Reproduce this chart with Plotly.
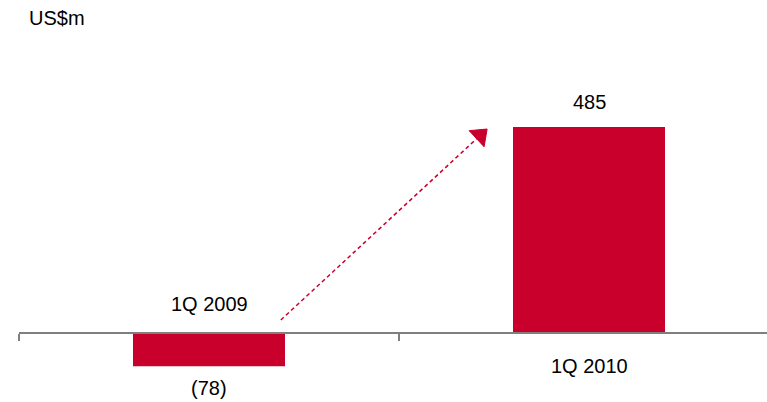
import plotly.graph_objects as go

# Quarterly result, US$ millions
periods = ["1Q 2009", "1Q 2010"]
values = [-78, 485]
positions = [0, 1]

# Trend arrow endpoints (category position, US$m)
arrow_x = [0.189, 0.7135]
arrow_y = [30.6, 465.0]

RED = "#C8002B"
AXIS_GRAY = "#7F7F7F"
FONT = "Liberation Sans, Arial, sans-serif"

W, H = 767, 402
ZERO_PX = 333          # vertical pixel of the zero line
PX_PER_UNIT = 206 / 485


def fmt(v):
    return f"({abs(v)})" if v < 0 else f"{v}"


fig = go.Figure()

fig.add_trace(go.Bar(
    x=positions, y=values, width=0.4,
    marker=dict(color=RED, line=dict(width=0)),
    hoverinfo="skip",
))

# dashed trend arrow
fig.add_trace(go.Scatter(
    x=arrow_x, y=arrow_y, mode="lines",
    line=dict(color=RED, width=1.5, dash="4px,3px"),
    hoverinfo="skip",
))
# solid triangle head oriented along the arrow
fig.add_trace(go.Scatter(
    x=arrow_x, y=arrow_y, mode="markers",
    marker=dict(symbol=["circle", "triangle-up"], size=[0, 19],
                color=RED, opacity=1, angleref="previous",
                line=dict(width=1, color=RED)),
    hoverinfo="skip",
))

annotations = []
for x, v, name in zip(positions, values, periods):
    # value label beyond the end of the bar
    annotations.append(dict(
        x=x, y=v, text=fmt(v), showarrow=False, xref="x", yref="y",
        yanchor="middle", yshift=25 if v >= 0 else -22,
        font=dict(size=20, color="#000000", family=FONT),
    ))
    # period label on the opposite side of the zero line
    annotations.append(dict(
        x=x, y=0, text=name, showarrow=False, xref="x", yref="y",
        yanchor="middle", yshift=-33 if v >= 0 else 29,
        font=dict(size=20, color="#000000", family=FONT),
    ))

annotations.append(dict(
    x=8 / W, y=1 - 18 / H, xref="paper", yref="paper", text="US$m",
    showarrow=False, xanchor="left", yanchor="middle",
    font=dict(size=20, color="#000000", family=FONT),
))

left = 19
x_span = (W - left) / 380.0
y_top = ZERO_PX / PX_PER_UNIT
y_bot = -(H - ZERO_PX) / PX_PER_UNIT

fig.update_layout(
    width=W, height=H,
    margin=dict(l=left, r=0, t=0, b=0),
    paper_bgcolor="white", plot_bgcolor="white",
    showlegend=False,
    annotations=annotations,
    xaxis=dict(
        range=[-0.5, -0.5 + x_span],
        anchor="free", position=1 - ZERO_PX / H,
        tickvals=[-0.5, 0.5, 1.5], ticktext=["", "", ""],
        ticks="outside", ticklen=7, tickwidth=1.5, tickcolor=AXIS_GRAY,
        showline=True, linecolor=AXIS_GRAY, linewidth=1.5,
        showgrid=False, zeroline=False, fixedrange=True,
    ),
    yaxis=dict(
        range=[y_bot, y_top], visible=False, showgrid=False,
        zeroline=False, fixedrange=True,
    ),
)

fig.write_html("out.html")
